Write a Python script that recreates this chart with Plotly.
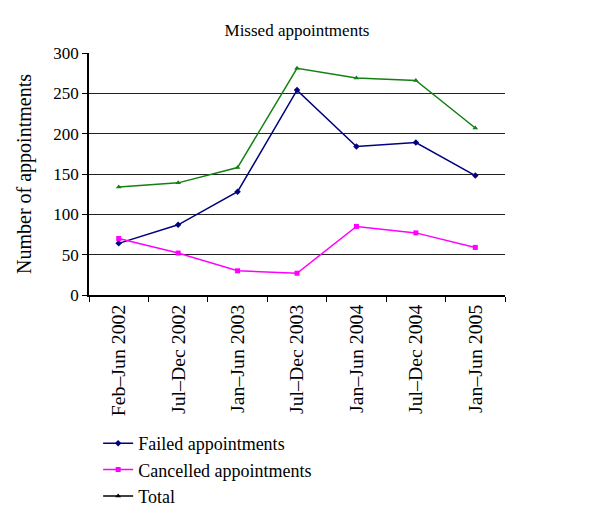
import plotly.graph_objects as go

categories = ["Feb–Jun 2002", "Jul–Dec 2002", "Jan–Jun 2003", "Jul–Dec 2003",
              "Jan–Jun 2004", "Jul–Dec 2004", "Jan–Jun 2005"]
failed = [64, 87, 128, 254, 184, 189, 148]
cancelled = [70, 52, 30, 27, 85, 77, 59]
total = [134, 139, 158, 281, 269, 266, 207]
y_ticks = [0, 50, 100, 150, 200, 250, 300]
grid_vals = [50, 100, 150, 200, 250]

FONT = "Liberation Serif"
W, H = 592, 517  # page body has an 8px margin

fig = go.Figure()
# invisible trace to activate the grid-only axis
fig.add_trace(go.Scatter(x=[categories[0]], y=[None], yaxis="y2", showlegend=False,
                         hoverinfo="skip"))
fig.add_trace(go.Scatter(x=categories, y=failed, name="Failed appointments",
                         mode="lines+markers", line=dict(color="#000080", width=1.5),
                         marker=dict(symbol="diamond", size=5, color="#000080")))
fig.add_trace(go.Scatter(x=categories, y=cancelled, name="Cancelled appointments",
                         mode="lines+markers", line=dict(color="#FF00FF", width=1.5),
                         marker=dict(symbol="square", size=5, color="#FF00FF")))
fig.add_trace(go.Scatter(x=categories, y=total, name="Total", showlegend=False,
                         mode="lines+markers", line=dict(color="#138013", width=1.5),
                         marker=dict(symbol="triangle-up", size=5, color="#138013")))
# legend entry for Total is drawn in black in the reference
fig.add_trace(go.Scatter(x=[categories[0]], y=[None], name="Total",
                         mode="lines+markers", line=dict(color="black", width=1.5),
                         marker=dict(symbol="triangle-up", size=5, color="black")))

fig.update_layout(
    width=W, height=H,
    paper_bgcolor="white", plot_bgcolor="white",
    margin=dict(l=81, r=95, t=45, b=230, autoexpand=False),
    font=dict(family=FONT, size=16, color="black"),
    title=dict(text="Missed appointments", x=289 / W, xanchor="center",
               y=1 - 22 / H, yanchor="middle", font=dict(family=FONT, size=17)),
    showlegend=True,
    legend=dict(x=0.022, y=-0.537, xanchor="left", yanchor="top",
                font=dict(family=FONT, size=18), tracegroupgap=0,
                bgcolor="rgba(0,0,0,0)"),
    xaxis=dict(type="category", showline=True, linecolor="black", linewidth=1.5,
               ticks="outside", tickson="boundaries", ticklen=5, tickcolor="black",
               tickangle=-90, showgrid=False, tickfont=dict(family=FONT, size=19.8),
               range=[-0.5, 6.5], automargin=False),
    yaxis=dict(range=[0, 300], tickvals=y_ticks, showline=True, linecolor="black",
               linewidth=1.5, ticks="outside", ticklen=5, tickcolor="black",
               showgrid=False, zeroline=False, tickfont=dict(family=FONT, size=17),
               automargin=False,
               title=dict(text="Number of appointments", font=dict(family=FONT, size=20),
                          standoff=16)),
    yaxis2=dict(range=[0, 300], overlaying="y", matches="y", tickvals=grid_vals,
                showticklabels=False, ticks="", showgrid=True, gridcolor="#222222",
                gridwidth=1.2, zeroline=False, showline=False, side="left",
                automargin=False),
)

fig.write_html("out.html")
